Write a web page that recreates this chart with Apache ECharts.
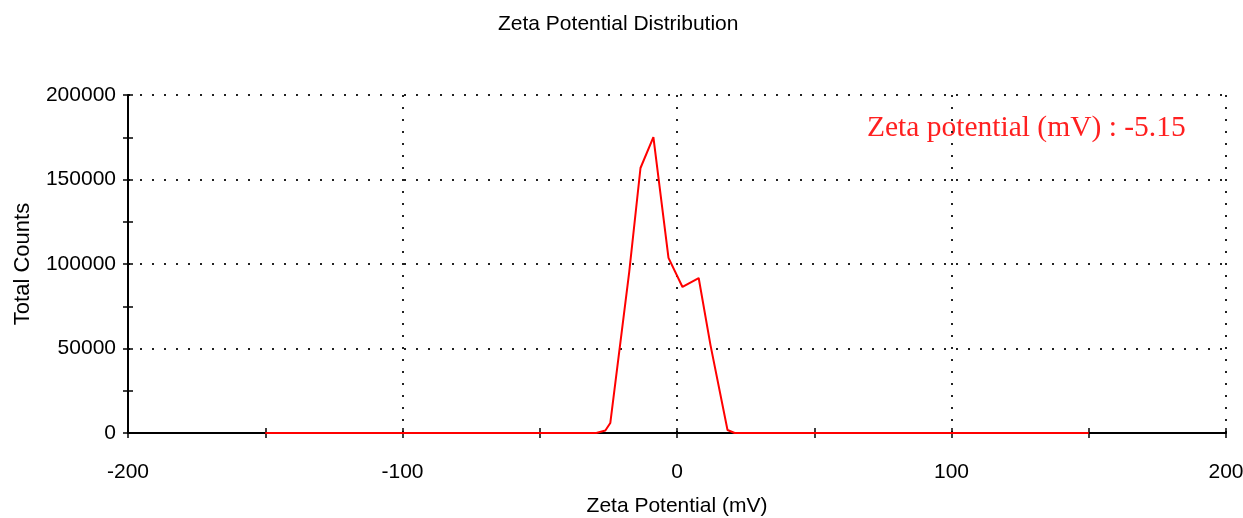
<!DOCTYPE html>
<html>
<head>
<meta charset="utf-8">
<script src="https://cdn.jsdelivr.net/npm/echarts@6/dist/echarts.min.js"></script>
<style>html,body{margin:0;padding:0;background:#fff}#c{width:1243px;height:518px}</style>
</head>
<body>
<div id="c"></div>
<script>
var zetaMv = [-150, -29.4, -26.1, -24.3, -17.4, -13.3, -8.6, -3.1, 2.0, 7.9, 12.2, 18.4, 21.0, 150];
var counts = [0, 0, 1500, 5900, 95300, 156800, 175100, 103600, 86400, 91700, 52000, 1800, 0, 0];
var xTicks = [-200, -100, 0, 100, 200];
var yTicks = [0, 50000, 100000, 150000, 200000];
var annotationText = 'Zeta potential (mV) : -5.15';

var pts = zetaMv.map(function (v, i) { return [v, counts[i]]; });
var FONT = '"Liberation Sans", Arial, sans-serif';
var dotted = { color: '#222', width: 2, type: [2, 10] };

function xAx(extra) {
  return Object.assign({
    type: 'value', min: -200, max: 200, interval: 50, position: 'bottom',
    axisLine: { show: false, onZero: false },
    axisTick: { show: false }, axisLabel: { show: false }, splitLine: { show: false }
  }, extra);
}
function yAx(extra) {
  return Object.assign({
    type: 'value', min: 0, max: 200000, interval: 25000, position: 'left',
    axisLine: { show: false, onZero: false },
    axisTick: { show: false }, axisLabel: { show: false }, splitLine: { show: false }
  }, extra);
}

var chart = echarts.init(document.getElementById('c'), null, { renderer: 'canvas' });
chart.setOption({
  animation: false,
  title: {
    text: 'Zeta Potential Distribution', left: 498, top: 14, padding: 0,
    textStyle: { fontFamily: FONT, fontSize: 21, fontWeight: 'normal', color: '#000' }
  },
  grid: { left: 128, right: 17, top: 95, bottom: 85, containLabel: false, outerBoundsMode: 'none' },
  xAxis: [
    xAx({
      axisLine: { show: true, onZero: false, lineStyle: { color: '#000', width: 2 } },
      axisTick: { show: true, length: 5, lineStyle: { color: '#000', width: 1.5 } },
      axisLabel: {
        show: true, margin: 29, fontFamily: FONT, fontSize: 21, color: '#000',
        formatter: function (v) { return xTicks.indexOf(v) >= 0 ? String(v) : ''; }
      },
      name: 'Zeta Potential (mV)', nameLocation: 'middle', nameGap: 63,
      nameTextStyle: { fontFamily: FONT, fontSize: 21, color: '#000' }
    }),
    xAx({ axisTick: { show: true, inside: true, length: 5, lineStyle: { color: '#000', width: 1.5 } } }),
    xAx({ interval: 100, splitLine: { show: true, lineStyle: dotted } })
  ],
  yAxis: [
    yAx({
      axisLine: { show: true, onZero: false, lineStyle: { color: '#000', width: 2 } },
      axisTick: { show: true, length: 5, lineStyle: { color: '#000', width: 1.5 } },
      axisLabel: {
        show: true, margin: 12, fontFamily: FONT, fontSize: 21, color: '#000',
        formatter: function (v) { return yTicks.indexOf(v) >= 0 ? String(v) : ''; }
      },
      name: 'Total Counts', nameLocation: 'middle', nameGap: 94,
      nameTextStyle: { fontFamily: FONT, fontSize: 22, color: '#000' }
    }),
    yAx({ axisTick: { show: true, inside: true, length: 5, lineStyle: { color: '#000', width: 1.5 } } }),
    yAx({ interval: 50000, splitLine: { show: true, lineStyle: dotted } })
  ],
  graphic: [{
    type: 'text', left: 867, top: 113,
    style: { text: annotationText, font: '29.5px "Liberation Serif", "Times New Roman", serif', fill: '#ff2020' }
  }],
  series: [{
    type: 'line', xAxisIndex: 0, yAxisIndex: 0, data: pts,
    showSymbol: false, symbol: 'none',
    lineStyle: { color: '#ff0000', width: 2 }, z: 5
  }]
});
</script>
</body>
</html>
